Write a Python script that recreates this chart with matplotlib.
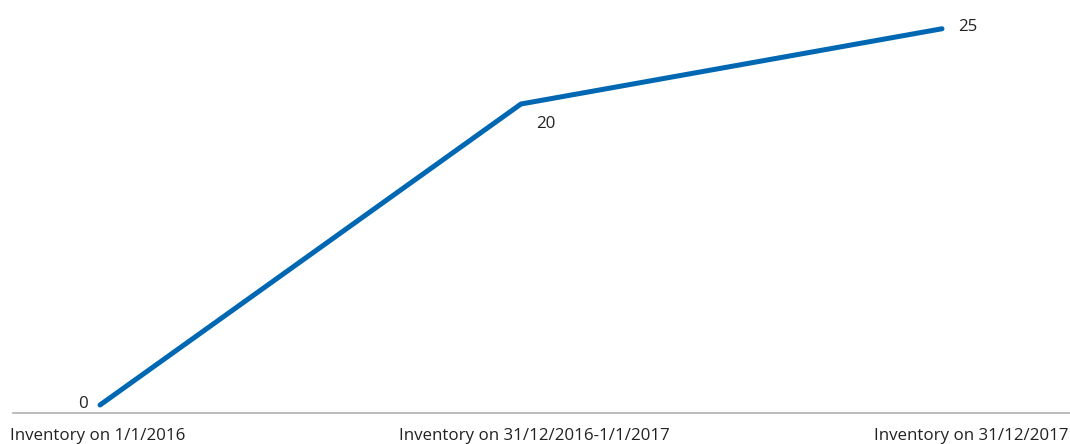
import matplotlib
matplotlib.use("Agg")
import matplotlib.pyplot as plt
import matplotlib.transforms as mtransforms

# data
categories = ["Inventory on 1/1/2016", "Inventory on 31/12/2016-1/1/2017", "Inventory on 31/12/2017"]
values = [0, 20, 25]

plt.rcParams['font.family'] = ['Open Sans', 'DejaVu Sans']

fig = plt.figure(figsize=(10.7, 4.44), dpi=100)
ax = fig.add_axes([0, 31/444, 1, 413/444])

x = list(range(len(categories)))
ax.plot(x, values, color='#0068b3', lw=3.6, solid_capstyle='round', solid_joinstyle='miter')

ax.set_xlim(-100/421, 2 + 128/421)
ax.set_ylim(-8/15.05, 405/15.05)

# point labels
lbl_color = '#222222'
fs = 12.2
ax.annotate(str(values[0]), (x[0], values[0]), xytext=(-12, 1), textcoords='offset pixels',
            ha='right', va='center', fontsize=fs, color=lbl_color)
ax.annotate(str(values[1]), (x[1], values[1]), xytext=(25, -20), textcoords='offset pixels',
            ha='center', va='center', fontsize=fs, color=lbl_color)
ax.annotate(str(values[2]), (x[2], values[2]), xytext=(16, 2), textcoords='offset pixels',
            ha='left', va='center', fontsize=fs, color=lbl_color)

# axes styling
for s in ['top', 'left', 'right']:
    ax.spines[s].set_visible(False)
ax.spines['bottom'].set_color('#b0b0b0')
ax.spines['bottom'].set_linewidth(1.2)
ax.spines['bottom'].set_bounds(-87/421, 2 + 128/421)
ax.set_yticks([])
ax.set_xticks(x)
ax.set_xticklabels(categories, fontsize=fs, color='#222222')
ax.tick_params(axis='x', length=0, pad=10.5)

labels = ax.get_xticklabels()
labels[0].set_ha('left')
labels[0].set_transform(labels[0].get_transform() + mtransforms.ScaledTranslation(-90/100, 0, fig.dpi_scale_trans))
labels[1].set_ha('center')
labels[1].set_transform(labels[1].get_transform() + mtransforms.ScaledTranslation(13/100, 0, fig.dpi_scale_trans))
labels[2].set_ha('right')
labels[2].set_transform(labels[2].get_transform() + mtransforms.ScaledTranslation(126/100, 0, fig.dpi_scale_trans))

fig.savefig("out.png", dpi=100)
